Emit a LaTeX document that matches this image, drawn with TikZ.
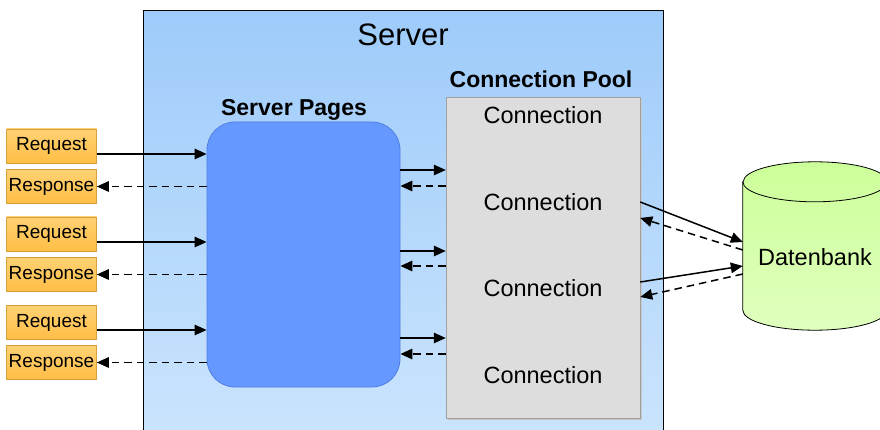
\documentclass[tikz,border=0pt]{standalone}
\usepackage{fontspec}
\setmainfont{Liberation Sans}
\usetikzlibrary{arrows.meta,calc}
\definecolor{srvtop}{RGB}{158,203,250}
\definecolor{srvbot}{RGB}{204,229,253}
\definecolor{pagesblue}{RGB}{102,153,255}
\definecolor{pagesedge}{RGB}{80,125,225}
\definecolor{poolgray}{RGB}{221,221,221}
\definecolor{pooledge}{RGB}{160,160,160}
\definecolor{reqtop}{RGB}{255,210,115}
\definecolor{reqbot}{RGB}{255,190,70}
\definecolor{reqedge}{RGB}{215,160,60}
\definecolor{dbtop}{RGB}{204,255,153}
\definecolor{dbbot}{RGB}{224,255,190}
\tikzset{
  x=1pt,y=1pt,
  txt/.style={inner sep=0pt},
  clientbox/.style={inner sep=0pt, minimum width=90pt, minimum height=34pt,
    top color=reqtop, bottom color=reqbot, draw=reqedge, line width=0.6pt,
    font=\fontsize{19}{21}\selectfont},
  conntxt/.style={inner sep=0pt, font=\fontsize{23.5}{26}\selectfont},
  req/.style={line width=1.5pt, -{Triangle[length=12pt,width=10.5pt]}},
  resp/.style={line width=1.5pt, dash pattern=on 7.5pt off 5pt, -{Triangle[length=12pt,width=10.5pt]}},
}
\begin{document}
\begin{tikzpicture}
\clip (0,0) rectangle (880,-430);
\fill[white] (0,0) rectangle (880,-430);
% Server
\node[anchor=north west, inner sep=0pt, minimum width=520pt, minimum height=440pt,
  top color=srvtop, bottom color=srvbot, draw=black, line width=0.8pt] (server) at (143,-10) {};
\node[txt, font=\fontsize{31}{34}\selectfont] (servertitle) at (403,-35) {Server};
% Server Pages
\node[inner sep=0pt, minimum width=193pt, minimum height=265pt, rounded corners=28pt,
  fill=pagesblue, draw=pagesedge, line width=0.8pt] (pages) at (303.5,-254.5) {};
\node[txt, font=\bfseries\fontsize{23}{26}\selectfont] (pagestitle) at (294,-110) {Server Pages};
% Connection Pool
\fill[pooledge!60] (447.5,-99) rectangle (641.5,-419.5);
\node[inner sep=0pt, minimum width=194pt, minimum height=321pt,
  fill=poolgray, draw=pooledge, line width=0.5pt] (pool) at (543,-257.5) {};
\node[txt, font=\bfseries\fontsize{23}{26}\selectfont] (pooltitle) at (541,-79) {Connection Pool};
\node[conntxt] (c1) at (543,-115) {Connection};
\node[conntxt] (c2) at (543,-202) {Connection};
\node[conntxt] (c3) at (543,-288) {Connection};
\node[conntxt] (c4) at (543,-375) {Connection};
% Database cylinder
\node[inner sep=0pt, minimum width=144pt, minimum height=128pt] (db) at (815,-246) {};
\path[top color=dbtop, bottom color=dbbot, draw=black, line width=0.8pt]
  (db.north west) -- (db.south west)
  arc[start angle=180, end angle=360, x radius=72pt, y radius=20pt]
  -- (db.north east)
  arc[start angle=0, end angle=180, x radius=72pt, y radius=20pt] -- cycle;
\draw[line width=0.8pt] (db.north west) arc[start angle=180, end angle=360, x radius=72pt, y radius=20pt];
\node[txt, font=\fontsize{23.5}{26}\selectfont] (dbtext) at (815,-257) {Datenbank};
% Clients
\node[clientbox] (req1) at (51.5,-146) {Request};
\node[clientbox] (resp1) at (51.5,-186.5) {Response};
\node[clientbox] (req2) at (51.5,-234) {Request};
\node[clientbox] (resp2) at (51.5,-274.5) {Response};
\node[clientbox] (req3) at (51.5,-322.5) {Request};
\node[clientbox] (resp3) at (51.5,-362.5) {Response};
% client arrows
\coordinate (a1) at ([yshift=-8pt]req1.east);
\coordinate (a2) at ([yshift=-8pt]req2.east);
\coordinate (a3) at ([yshift=-7.5pt]req3.east);
\draw[req] (a1) -- (a1 -| pages.west);
\draw[req] (a2) -- (a2 -| pages.west);
\draw[req] (a3) -- (a3 -| pages.west);
\draw[resp] (resp1.east -| pages.west) -- (resp1.east);
\draw[resp] (resp2.east -| pages.west) -- (resp2.east);
\draw[resp] (resp3.east -| pages.west) -- (resp3.east);
% pages <-> pool
\coordinate (m1) at (0,-170);
\coordinate (m2) at (0,-186);
\coordinate (m3) at (0,-251);
\coordinate (m4) at (0,-266);
\coordinate (m5) at (0,-338);
\coordinate (m6) at (0,-354);
\draw[req] (pages.east |- m1) -- (pool.west |- m1);
\draw[resp] (pool.west |- m2) -- (pages.east |- m2);
\draw[req] (pages.east |- m3) -- (pool.west |- m3);
\draw[resp] (pool.west |- m4) -- (pages.east |- m4);
\draw[req] (pages.east |- m5) -- (pool.west |- m5);
\draw[resp] (pool.west |- m6) -- (pages.east |- m6);
% pool <-> db
\draw[req] ([yshift=55.5pt]pool.east) -- ([yshift=4pt]db.west);
\draw[resp] ([yshift=-4pt]db.west) -- ([yshift=39.5pt]pool.east);
\draw[req] ([yshift=-24.5pt]pool.east) -- ([yshift=-20pt]db.west);
\draw[resp] ([yshift=-28pt]db.west) -- ([yshift=-39.5pt]pool.east);
\end{tikzpicture}
\end{document}
